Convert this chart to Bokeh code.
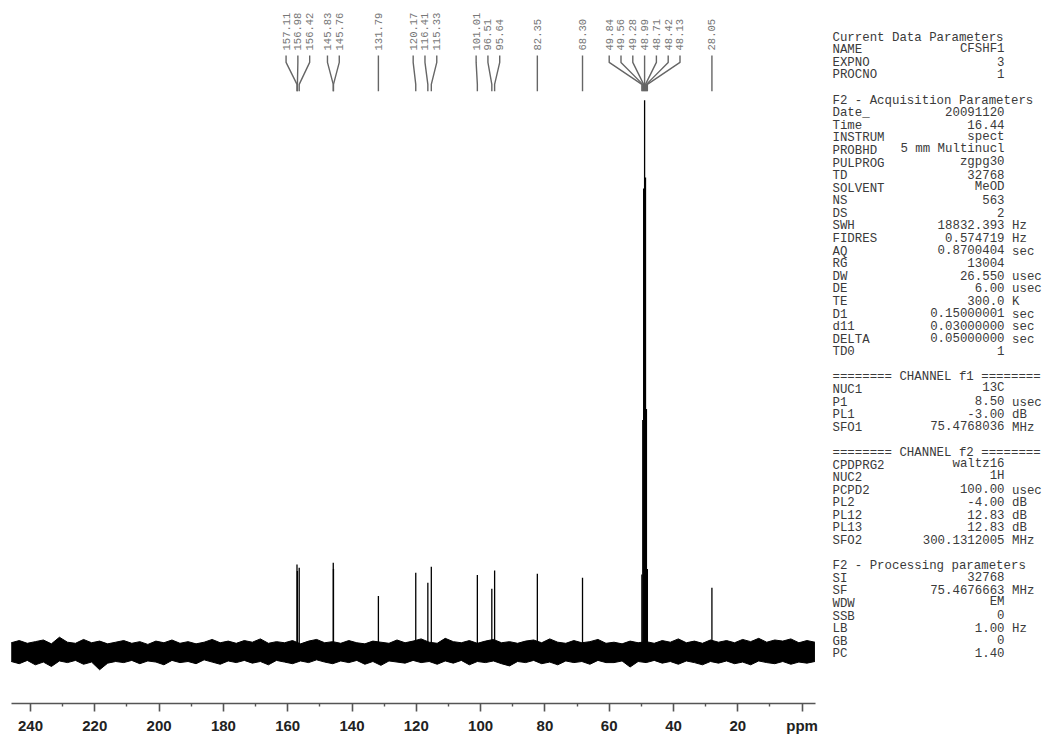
import numpy as np
from bokeh.plotting import figure
from bokeh.models import Range1d, FixedTicker
from bokeh.core.properties import value
from bokeh.embed import file_html
from bokeh.resources import INLINE

# ---------------- data ----------------
peak_ppm = [157.11, 156.98, 156.42, 145.83, 145.76, 131.79, 120.17, 116.41, 115.33,
            101.01, 96.51, 95.64, 82.35, 68.30,
            49.84, 49.56, 49.28, 48.99, 48.71, 48.42, 48.13, 28.05]
peak_int = [15.8, 14.6, 15.2, 16.1, 15.0, 10.1, 14.3, 12.5, 15.4,
            13.9, 11.4, 14.7, 14.1, 13.4,
            14.0, 42.0, 84.0, 100.0, 86.0, 44.0, 15.0, 11.6]

# baseline noise envelope (every 2.5 ppm)
noise_ppm = [246.0, 243.5, 241.0, 238.5, 236.0, 233.5, 231.0, 228.5, 226.0, 223.5,
             221.0, 218.5, 216.0, 213.5, 211.0, 208.5, 206.0, 203.5, 201.0, 198.5,
             196.0, 193.5, 191.0, 188.5, 186.0, 183.5, 181.0, 178.5, 176.0, 173.5,
             171.0, 168.5, 166.0, 163.5, 161.0, 158.5, 156.0, 153.5, 151.0, 148.5,
             146.0, 143.5, 141.0, 138.5, 136.0, 133.5, 131.0, 128.5, 126.0, 123.5,
             121.0, 118.5, 116.0, 113.5, 111.0, 108.5, 106.0, 103.5, 101.0, 98.5,
             96.0, 93.5, 91.0, 88.5, 86.0, 83.5, 81.0, 78.5, 76.0, 73.5,
             71.0, 68.5, 66.0, 63.5, 61.0, 58.5, 56.0, 53.5, 51.0, 48.5,
             46.0, 43.5, 41.0, 38.5, 36.0, 33.5, 31.0, 28.5, 26.0, 23.5,
             21.0, 18.5, 16.0, 13.5, 11.0, 8.5, 6.0, 3.5, 1.0, -1.5, -4.0]
noise_upper = [1.6, 2.0, 1.5, 1.8, 2.1, 1.4, 2.6, 1.7, 1.5, 2.2,
               1.6, 1.9, 1.4, 1.7, 2.0, 1.5, 1.8, 1.3, 1.9, 1.6,
               2.1, 1.5, 1.8, 1.4, 1.7, 2.2, 1.6, 1.9, 1.5, 2.0,
               1.7, 2.3, 1.5, 1.8, 1.6, 2.0, 1.4, 1.9, 2.2, 1.6,
               1.8, 1.5, 2.0, 1.6, 1.4, 1.9, 1.7, 1.5, 2.1, 1.6,
               1.9, 2.3, 1.7, 1.5, 2.4, 1.8, 1.6, 2.0, 1.5, 1.9,
               2.2, 1.6, 1.8, 1.5, 1.9, 2.1, 1.6, 2.3, 1.7, 1.5,
               2.0, 1.6, 1.8, 2.2, 1.5, 1.7, 1.4, 1.9, 1.6, 1.8,
               1.5, 2.0, 1.7, 2.3, 1.6, 1.9, 1.5, 2.1, 1.7, 2.0,
               1.6, 2.2, 1.8, 2.4, 1.7, 2.1, 1.9, 2.3, 1.6, 2.0, 1.7]
noise_lower = [-1.8, -2.2, -1.6, -2.4, -1.9, -2.7, -1.7, -2.0, -1.6, -2.3,
               -1.9, -3.3, -2.1, -1.8, -2.0, -1.6, -2.2, -1.7, -1.9, -2.4,
               -1.6, -2.0, -1.8, -2.2, -1.5, -1.9, -2.3, -1.7, -2.0, -1.6,
               -2.1, -1.8, -2.4, -1.6, -1.9, -2.2, -1.7, -2.0, -1.5, -1.9,
               -2.2, -1.7, -2.0, -1.6, -2.3, -1.8, -2.5, -1.7, -1.9, -2.1,
               -1.6, -2.0, -1.8, -2.3, -1.7, -2.1, -1.6, -2.4, -1.8, -2.0,
               -1.7, -2.2, -2.6, -1.8, -2.0, -1.6, -2.2, -1.9, -2.4, -1.7,
               -2.0, -1.8, -2.3, -1.6, -2.0, -2.0, -1.7, -2.8, -1.8, -2.0,
               -1.6, -2.1, -1.8, -2.3, -1.7, -2.0, -2.4, -1.8, -2.1, -1.7,
               -2.2, -1.9, -2.4, -1.7, -2.0, -2.2, -1.8, -2.3, -1.9, -2.1, -1.8]

major_ticks = [240, 220, 200, 180, 160, 140, 120, 100, 80, 60, 40, 20, 0]
minor_ticks = [230, 210, 190, 170, 150, 130, 110, 90, 70, 50, 30, 10]
tick_overrides = {0: "ppm"}

sec_current = ("Current Data Parameters",
               ["NAME", "EXPNO", "PROCNO"],
               ["CFSHF1", "3", "1"],
               ["", "", ""])
sec_acq = ("F2 - Acquisition Parameters",
           ["Date_", "Time", "INSTRUM", "PROBHD", "PULPROG", "TD", "SOLVENT", "NS", "DS",
            "SWH", "FIDRES", "AQ", "RG", "DW", "DE", "TE", "D1", "d11", "DELTA", "TD0"],
           ["20091120", "16.44", "spect", "5 mm Multinucl", "zgpg30", "32768", "MeOD", "563", "2",
            "18832.393", "0.574719", "0.8700404", "13004", "26.550", "6.00", "300.0", "0.15000001",
            "0.03000000", "0.05000000", "1"],
           ["", "", "", "", "", "", "", "", "",
            "Hz", "Hz", "sec", "", "usec", "usec", "K", "sec", "sec", "sec", ""])
sec_f1 = ("======== CHANNEL f1 ========",
          ["NUC1", "P1", "PL1", "SFO1"],
          ["13C", "8.50", "-3.00", "75.4768036"],
          ["", "usec", "dB", "MHz"])
sec_f2 = ("======== CHANNEL f2 ========",
          ["CPDPRG2", "NUC2", "PCPD2", "PL2", "PL12", "PL13", "SFO2"],
          ["waltz16", "1H", "100.00", "-4.00", "12.83", "12.83", "300.1312005"],
          ["", "", "usec", "dB", "dB", "dB", "MHz"])
sec_proc = ("F2 - Processing parameters",
            ["SI", "SF", "WDW", "SSB", "LB", "GB", "PC"],
            ["32768", "75.4676663", "EM", "0", "1.00", "0", "1.40"],
            ["", "MHz", "", "", "Hz", "", ""])
sections = [sec_current, sec_acq, sec_f1, sec_f2, sec_proc]

# ---------------- layout helpers (screen px -> data) ----------------
W, H = 1043, 736
BASE_Y = 652.0      # screen y of baseline
PX_PER_UNIT = 5.52  # screen px per intensity unit
X_240 = 30.0        # screen x of 240 ppm
PX_PER_PPM = 3.215
FRAME_BOTTOM = 704.0

def sy(y):
    return (BASE_Y - y) / PX_PER_UNIT

def sx(x):
    return 240.0 - (x - X_240) / PX_PER_PPM

p = figure(width=W, height=H, output_backend="svg", toolbar_location=None,
           x_range=Range1d(sx(0), sx(W)), y_range=Range1d(sy(FRAME_BOTTOM), sy(0)),
           y_axis_location=None, min_border_left=0, min_border_right=0,
           min_border_top=0, min_border_bottom=int(H - FRAME_BOTTOM))
p.grid.visible = False
p.outline_line_color = None
p.background_fill_color = "white"
p.border_fill_color = "white"

# noise band
p.varea(x=noise_ppm, y1=noise_lower, y2=noise_upper, fill_color="black")
p.line(x=noise_ppm, y=noise_upper, line_color="black", line_width=1)
p.line(x=noise_ppm, y=noise_lower, line_color="black", line_width=1)

# peaks
p.segment(x0=peak_ppm, y0=[0] * len(peak_ppm), x1=peak_ppm, y1=peak_int,
          line_color="black", line_width=1.3)

# ---------------- peak labels with spreading ----------------
gap = 11.8 / PX_PER_PPM
order = sorted(range(len(peak_ppm)), key=lambda i: -peak_ppm[i])
clusters = [[i] for i in order]

def cl_center(c):
    return float(np.mean([peak_ppm[i] for i in c]))

changed = True
while changed:
    changed = False
    for k in range(len(clusters) - 1):
        a, b = clusters[k], clusters[k + 1]
        low_a = cl_center(a) - gap * (len(a) - 1) / 2
        high_b = cl_center(b) + gap * (len(b) - 1) / 2
        if low_a - high_b < gap:
            clusters[k] = a + b
            del clusters[k + 1]
            changed = True
            break

lab_x, lab_txt, conn_xs, conn_ys = [], [], [], []
y_top, y_b1, y_b2, y_bot = sy(55), sy(62), sy(84), sy(91)
for c in clusters:
    cen = cl_center(c)
    n = len(c)
    for j, i in enumerate(c):
        lx = cen + gap * ((n - 1) / 2 - j)
        lab_x.append(lx)
        lab_txt.append("%.2f" % peak_ppm[i])
        conn_xs.append([lx, lx, peak_ppm[i], peak_ppm[i]])
        conn_ys.append([y_top, y_b1, y_b2, y_bot])

p.multi_line(xs=conn_xs, ys=conn_ys, line_color="#666666", line_width=1.4)
p.text(x=lab_x, y=[sy(50)] * len(lab_x), text=lab_txt, angle=np.pi / 2,
       text_align="left", text_baseline="middle", text_font=value("Liberation Mono"),
       text_font_size="10.5px", text_color="#777777")

# ---------------- parameter block ----------------
X_TXT = 832.0
CW = 7.48
LINE_H = 12.6
Y0 = 35.0 + 2.3   # alphabetic baseline of first line
VAL_DY = -1.8     # right-aligned values render slightly lower; compensate
hx, hy, ht = [], [], []
vx, vy, vt = [], [], []
ux, uy, ut = [], [], []
row = 0
for title, names, vals, units in sections:
    hx.append(sx(X_TXT)); hy.append(sy(Y0 + row * LINE_H)); ht.append(title)
    row += 1
    for nme, v, u in zip(names, vals, units):
        ys = Y0 + row * LINE_H
        hx.append(sx(X_TXT)); hy.append(sy(ys)); ht.append(nme)
        vx.append(sx(X_TXT + 23 * CW)); vy.append(sy(ys + VAL_DY)); vt.append(v)
        if u:
            ux.append(sx(X_TXT + 24 * CW)); uy.append(sy(ys)); ut.append(u)
        row += 1
    row += 1

common = dict(text_baseline="alphabetic", text_font=value("Liberation Mono"),
              text_font_size="12.4px", text_color="#3a3a3a")
p.text(x=hx, y=hy, text=ht, text_align="left", **common)
p.text(x=vx, y=vy, text=vt, text_align="right", **common)
p.text(x=ux, y=uy, text=ut, text_align="left", **common)

# ---------------- axis ----------------
ax = p.xaxis[0]
ax.bounds = (sx(815), sx(11))
ax.ticker = FixedTicker(ticks=major_ticks, minor_ticks=minor_ticks)
ax.major_label_overrides = tick_overrides
ax.axis_line_color = "#555555"
ax.axis_line_width = 1.6
ax.major_tick_line_color = "#555555"
ax.major_tick_line_width = 1.6
ax.minor_tick_line_color = "#555555"
ax.minor_tick_line_width = 1.4
ax.major_tick_out = 8
ax.major_tick_in = 0
ax.minor_tick_out = 3
ax.minor_tick_in = 0
ax.major_label_standoff = 5
ax.major_label_text_font = "Liberation Sans"
ax.major_label_text_font_style = "bold"
ax.major_label_text_font_size = "15px"
ax.major_label_text_color = "#222222"

open("out.html", "w").write(file_html(p, INLINE))
